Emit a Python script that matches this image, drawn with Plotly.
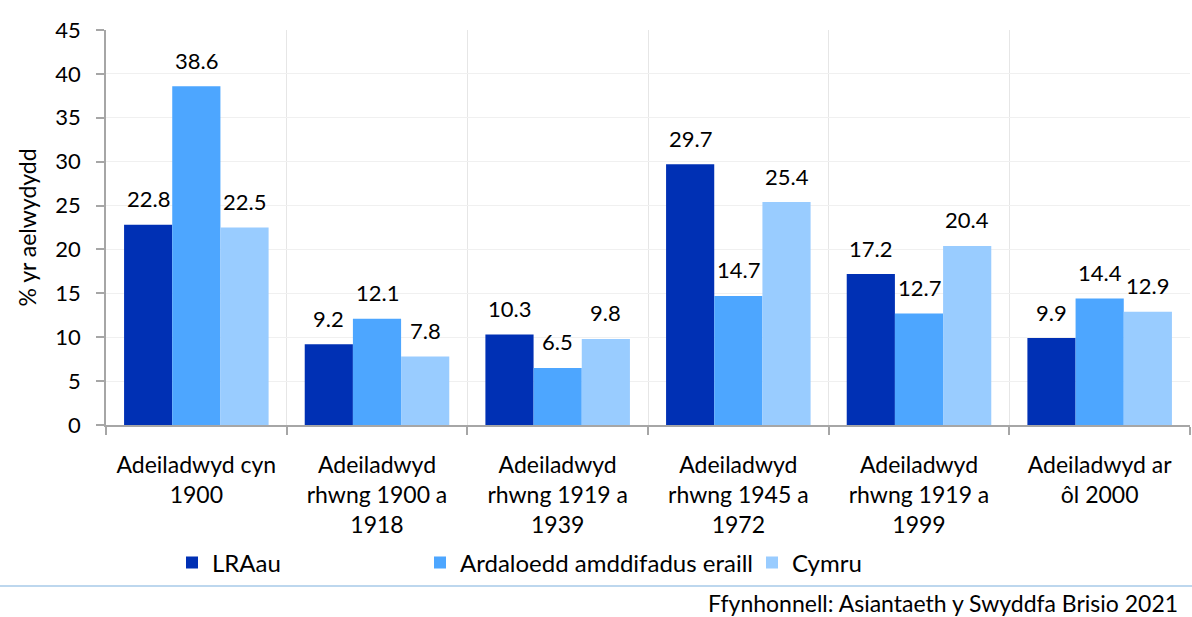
import plotly.graph_objects as go

categories = [
    "Adeiladwyd cyn<br>1900",
    "Adeiladwyd<br>rhwng 1900 a<br>1918",
    "Adeiladwyd<br>rhwng 1919 a<br>1939",
    "Adeiladwyd<br>rhwng 1945 a<br>1972",
    "Adeiladwyd<br>rhwng 1919 a<br>1999",
    "Adeiladwyd ar<br>ôl 2000",
]
lraau = [22.8, 9.2, 10.3, 29.7, 17.2, 9.9]
ardaloedd = [38.6, 12.1, 6.5, 14.7, 12.7, 14.4]
cymru = [22.5, 7.8, 9.8, 25.4, 20.4, 12.9]
series_names = ["LRAau", "Ardaloedd amddifadus eraill", "Cymru"]
colors = ["#0030b4", "#4da6ff", "#99ccff"]
y_ticks = [0, 5, 10, 15, 20, 25, 30, 35, 40, 45]
source = "Ffynhonnell: Asiantaeth y Swyddfa Brisio 2021"

FONT = "Lato"
PLOT_W = 1084
BARGAP = 0.2
bar_px = PLOT_W / len(categories) * (1 - BARGAP) / 3

fig = go.Figure()
legend_keys = ["legend", "legend2", "legend3"]
all_series = [lraau, ardaloedd, cymru]
for i, (vals, name, col, lg) in enumerate(zip(all_series, series_names, colors, legend_keys)):
    fig.add_trace(go.Bar(
        x=categories, y=vals, name=name, marker=dict(color=col, line=dict(width=0)),
        legend=lg,
    ))
    for cat, v in zip(categories, vals):
        fig.add_annotation(x=cat, y=v, text=f"{v:.1f}", showarrow=False,
                           xshift=(i - 1) * bar_px, yshift=26, yanchor="middle",
                           font=dict(size=22, family=FONT, color="#000000"))

legend_common = dict(orientation="h", yanchor="middle", y=-(563 - 425) / 395, xanchor="left",
                     font=dict(size=24, color="#000000", family=FONT),
                     bgcolor="rgba(0,0,0,0)", itemwidth=30, tracegroupgap=0)
fig.update_layout(
    width=1192, height=617,
    margin=dict(l=106, r=2, t=30, b=192),
    paper_bgcolor="white", plot_bgcolor="white",
    barmode="group", bargap=BARGAP, bargroupgap=0,
    font=dict(family=FONT, size=23, color="#000000"),
    showlegend=True,
    legend=dict(x=(172 - 106) / PLOT_W, **legend_common),
    legend2=dict(x=(420 - 106) / PLOT_W, **legend_common),
    legend3=dict(x=(752 - 106) / PLOT_W, **legend_common),
)
fig.update_xaxes(
    type="category", tickson="boundaries", showgrid=True, gridcolor="#e6e6e6", gridwidth=1,
    showline=True, linecolor="#a6a6a6", linewidth=1.5,
    ticks="outside", ticklen=8, tickcolor="#a6a6a6", tickwidth=1.5,
    tickfont=dict(size=23, family=FONT, color="#000000"), ticklabelstandoff=19,
)
fig.update_yaxes(
    range=[0, 45], tickvals=y_ticks, showgrid=True, gridcolor="#f0f0f0", gridwidth=1,
    showline=True, linecolor="#a6a6a6", linewidth=1.5,
    ticks="outside", ticklen=8, tickcolor="#a6a6a6", tickwidth=1.5,
    tickfont=dict(size=22, family=FONT, color="#000000"), zeroline=False, ticklabelstandoff=11,
    title=dict(text="% yr aelwydydd", font=dict(size=23, family=FONT), standoff=12),
)
fig.add_shape(type="line", xref="paper", yref="paper", x0=-106 / PLOT_W, x1=1 + 2 / PLOT_W,
              y0=-(586 - 425) / 395, y1=-(586 - 425) / 395,
              line=dict(color="#bdd7ee", width=2))
fig.add_annotation(text=source, xref="paper", yref="paper", x=1 - 10 / PLOT_W, y=-(603 - 425) / 395,
                   xanchor="right", yanchor="middle", showarrow=False,
                   font=dict(size=23, family=FONT, color="#000000"))
fig.write_html("out.html", config={"displayModeBar": False},
               post_script="document.body.style.margin='0';document.body.style.overflow='hidden';")
